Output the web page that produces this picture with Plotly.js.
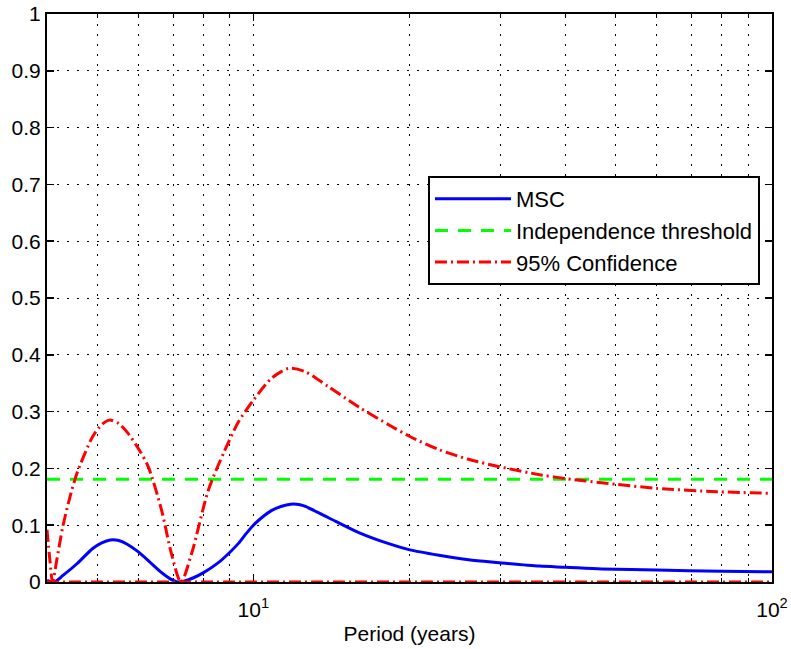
<!DOCTYPE html>
<html>
<head>
<meta charset="utf-8">
<script src="https://cdn.plot.ly/plotly-3.0.1.min.js"></script>
<style>html,body{margin:0;padding:0;background:#fff;}#chart{width:791px;height:649px;}</style>
</head>
<body>
<div id="chart"></div>
<script>
// MSC curve (period in years, magnitude squared coherence)
const mscPeriod = [4.0, 4.13, 4.3, 4.58, 4.9, 5.1, 5.3, 5.5, 5.7, 6.0, 6.3, 6.6, 6.9, 7.15, 7.5, 8.0, 8.56, 9.0, 9.36, 9.7, 10.0, 10.4, 10.85, 11.3, 11.8, 12.3, 12.6, 13.9, 15.97, 18.3, 19.95, 22.8, 26.0, 29.8, 35.6, 40, 47, 60, 80, 100];
const mscValue  = [0.003, 0.0, 0.012, 0.033, 0.059, 0.069, 0.074, 0.073, 0.067, 0.053, 0.036, 0.019, 0.006, 0.0, 0.004, 0.016, 0.034, 0.052, 0.068, 0.086, 0.100, 0.114, 0.126, 0.133, 0.137, 0.136, 0.133, 0.114, 0.087, 0.067, 0.057, 0.047, 0.039, 0.034, 0.028, 0.026, 0.023, 0.021, 0.019, 0.018];

// Upper 95% confidence bound
const confPeriod = [4.0, 4.05, 4.1, 4.18, 4.29, 4.43, 4.58, 4.9, 5.1, 5.28, 5.5, 5.73, 6.0, 6.27, 6.65, 6.95, 7.25, 7.6, 8.19, 8.81, 9.36, 10.0, 10.85, 11.7, 12.6, 13.9, 15.97, 18.3, 19.95, 22.8, 26.0, 29.8, 35.6, 40.1, 50.1, 59.8, 78.2, 100];
const confValue  = [0.092, 0.04, 0.0, 0.04, 0.097, 0.15, 0.194, 0.256, 0.277, 0.285, 0.279, 0.262, 0.235, 0.203, 0.127, 0.05, 0.0, 0.05, 0.162, 0.232, 0.282, 0.320, 0.359, 0.376, 0.370, 0.345, 0.308, 0.276, 0.257, 0.233, 0.216, 0.203, 0.189, 0.182, 0.172, 0.165, 0.159, 0.156];

// Lower 95% confidence bound
const lowerPeriod = [4, 100];
const lowerValue  = [0, 0];

// Independence threshold
const threshPeriod = [4, 100];
const threshValue  = [0.181, 0.181];

const xTickVals = [10, 100];
const xTickText = ['10<sup>1</sup>', '10<sup>2</sup>'];
const xMinorVals = [5, 6, 7, 8, 9, 20, 30, 40, 50, 60, 70, 80, 90];
const seriesNames = ['MSC', 'Independence threshold', '95% Confidence'];

const FONT = 'Liberation Sans, Arial, Helvetica, sans-serif';
const gridDash = '1.5px,8.5px';

const traces = [
  {x: mscPeriod, y: mscValue, name: seriesNames[0], mode: 'lines', legendgroup: 'a',
   line: {color: '#0000ff', width: 3, shape: 'spline', smoothing: 0.8}},
  {x: threshPeriod, y: threshValue, name: seriesNames[1], mode: 'lines', legendgroup: 'b',
   line: {color: '#00ff00', width: 3, dash: '13px,10px'}},
  {x: confPeriod, y: confValue, name: seriesNames[2], mode: 'lines', legendgroup: 'c',
   line: {color: '#ff0000', width: 3, dash: '12px,4px,2px,4px', shape: 'spline', smoothing: 0.8}},
  {x: lowerPeriod, y: lowerValue, name: seriesNames[2], mode: 'lines', showlegend: false, legendgroup: 'c',
   line: {color: '#ff0000', width: 3, dash: '12px,4px,2px,4px'}}
];

const layout = {
  width: 791, height: 649,
  margin: {l: 47, r: 19, t: 14, b: 67},
  paper_bgcolor: '#fff', plot_bgcolor: '#fff',
  font: {family: FONT, color: '#000', size: 21},
  showlegend: true,
  legend: {
    x: 0.5255, y: 0.7148, xanchor: 'left', yanchor: 'top',
    bgcolor: '#fff', bordercolor: '#000', borderwidth: 2,
    font: {family: FONT, size: 22, color: '#000'},
    tracegroupgap: 0, itemwidth: 76
  },
  xaxis: {
    type: 'log', range: [Math.log10(4), 2],
    tickmode: 'array', tickvals: xTickVals, ticktext: xTickText,
    ticks: 'inside', ticklen: 7, tickwidth: 1.5, tickcolor: '#000',
    ticklabelstandoff: 8,
    showline: true, linewidth: 2, linecolor: '#000', mirror: 'ticks',
    showgrid: true, gridcolor: '#000', gridwidth: 1, griddash: gridDash,
    zeroline: false,
    tickfont: {family: FONT, size: 21, color: '#000'},
    minor: {tickmode: 'array', tickvals: xMinorVals, ticks: 'inside', ticklen: 4,
            tickcolor: '#000', tickwidth: 1, showgrid: true, gridcolor: '#000',
            gridwidth: 1, griddash: gridDash},
    title: {text: 'Period (years)', font: {family: FONT, size: 21, color: '#000'}, standoff: 6},
    layer: 'below traces'
  },
  yaxis: {
    range: [0, 1], tickmode: 'linear', tick0: 0, dtick: 0.1,
    ticks: 'inside', ticklen: 7, tickwidth: 1.5, tickcolor: '#000',
    showline: true, linewidth: 2, linecolor: '#000', mirror: 'ticks',
    showgrid: true, gridcolor: '#000', gridwidth: 1, griddash: gridDash,
    zeroline: false,
    tickfont: {family: FONT, size: 21, color: '#000'},
    layer: 'below traces'
  }
};

Plotly.newPlot('chart', traces, layout, {displayModeBar: false, staticPlot: true});
</script>
</body>
</html>
